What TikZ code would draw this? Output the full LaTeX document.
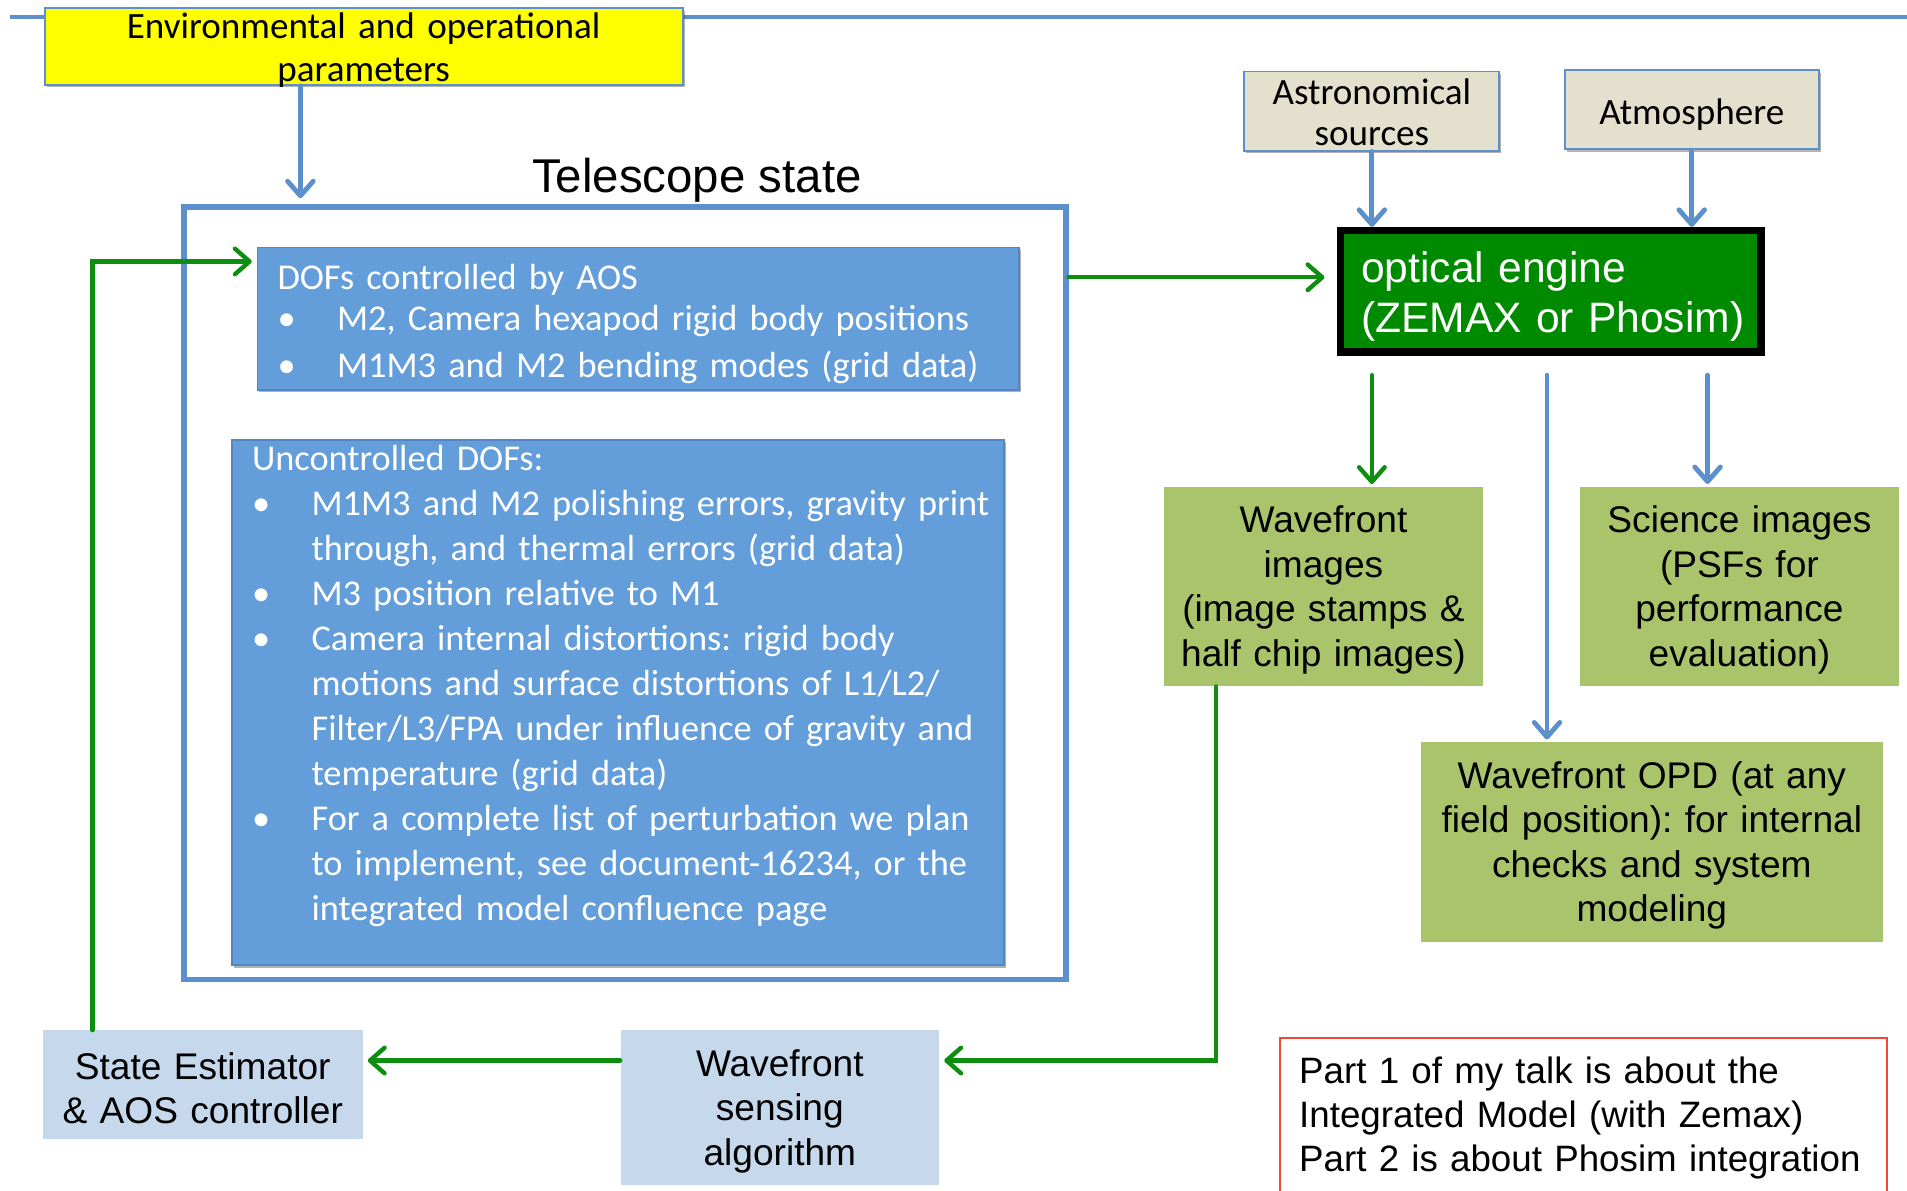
\documentclass[tikz,border=0pt]{standalone}
\usepackage{fontspec}
\setmainfont{Liberation Sans}
\newfontfamily\calfont{Carlito}
\usetikzlibrary{arrows.meta,shadows}
\frenchspacing
\definecolor{lineblue}{RGB}{92,144,204}
\definecolor{boxblue}{RGB}{99,158,218}
\definecolor{boxedge}{RGB}{84,134,194}
\definecolor{lightblue}{RGB}{198,216,236}
\definecolor{olivebox}{RGB}{169,196,107}
\definecolor{beige}{RGB}{227,224,205}
\definecolor{enggreen}{RGB}{0,138,0}
\definecolor{arrgreen}{RGB}{14,142,14}
\definecolor{redline}{RGB}{240,72,52}
\definecolor{yel}{RGB}{255,255,0}
\newcommand\ArTxt{\fontsize{30.5}{36.6}\selectfont}
\newcommand\CalTxt{\calfont\fontsize{29.9}{37}\selectfont}
\newcommand\mybul{\makebox[49pt][l]{\textbullet}}
\newcommand\myind{\hspace*{49pt}}
\begin{document}
\begin{tikzpicture}[x=1pt,y=-1pt,
  bx/.style={rectangle, inner sep=0pt, anchor=north west},
  shad/.style={drop shadow={shadow xshift=1.5pt, shadow yshift=-2pt, opacity=0.3, fill=black}},
  txt/.style={inner sep=0pt, anchor=base},
  artxt/.style={align=center, font=\ArTxt, text height=28pt},
  mytip/.style={-{Straight Barb[length=12pt,width=21pt,round]}},
  barrow/.style={draw=lineblue, line width=4pt, line cap=round, mytip},
  garrow/.style={draw=arrgreen, line width=3.6pt, line cap=round, mytip},
]
\fill[white] (0,0) rectangle (1568,979);
\useasboundingbox (0,0) rectangle (1568,979);

% top line
\coordinate (topL) at (8,14);
\coordinate (topR) at (1568,14);
\draw[lineblue, line width=3.6pt] (topL) -- (topR);

% environmental parameters
\node[bx, fill=yel, draw=lineblue, line width=1.6pt, shad, minimum width=525pt, minimum height=63pt] (env) at (36,6) {};
\node[txt, text width=600pt, align=center, font=\calfont\fontsize{30.5}{35}\selectfont] (envtxt) at (299,32) {Environmental and operational\\parameters};

% telescope state
\node[txt, font=\fontsize{39}{44}\selectfont] (tslabel) at (573,158) {Telescope state};
\node[bx, fill=white, draw=lineblue, line width=4.6pt, shad, minimum width=725pt, minimum height=635pt] (ts) at (149,168) {};

\node[bx, fill=boxblue, draw=boxedge, line width=1.3pt, shad, minimum width=626pt, minimum height=117pt] (dofs) at (211,203) {};
\node[txt, anchor=base west, text width=700pt, align=left, text=white, font=\calfont\fontsize{29.9}{38}\selectfont] (dofstxt) at (228,238) {DOFs controlled by AOS\\[-4pt]\mybul M2, Camera hexapod rigid body positions\\\mybul M1M3 and M2 bending modes (grid data)};

\node[bx, fill=boxblue, draw=boxedge, line width=1.3pt, shad, minimum width=635pt, minimum height=432pt] (unc) at (190,361) {};
\node[txt, anchor=base west, text width=700pt, align=left, text=white, font=\CalTxt] (unctxt) at (207,387) {Uncontrolled DOFs:\\
\mybul M1M3 and M2 polishing errors, gravity print\\
\myind through, and thermal errors (grid data)\\
\mybul M3 position relative to M1\\
\mybul Camera internal distortions: rigid body\\
\myind motions and surface distortions of L1/L2/\\
\myind Filter/L3/FPA under influence of gravity and\\
\myind temperature (grid data)\\
\mybul For a complete list of perturbation we plan\\
\myind to implement, see document-16234, or the\\
\myind integrated model confluence page};

% sources
\node[bx, fill=beige, draw=lineblue, line width=1.6pt, shad, minimum width=210pt, minimum height=65pt] (astro) at (1022,58) {};
\node[txt, text width=220pt, align=center, font=\calfont\fontsize{30.5}{33.5}\selectfont] (astrotxt) at (1128,86) {Astronomical\\sources};
\node[bx, fill=beige, draw=lineblue, line width=1.6pt, shad, minimum width=209pt, minimum height=65pt] (atmos) at (1286,57) {};
\node[txt, font=\calfont\fontsize{30.5}{37}\selectfont] (atmostxt) at (1391,102) {Atmosphere};

% optical engine
\node[bx, fill=enggreen, draw=black, line width=6pt, minimum width=346pt, minimum height=100pt] (eng) at (1099,186.5) {};
\node[txt, anchor=base west, text width=330pt, align=left, text=white, font=\fontsize{35}{41}\selectfont] (engtxt) at (1119,232) {optical engine\\(ZEMAX or Phosim)};

% outputs
\node[bx, fill=olivebox, minimum height=164pt, text width=262pt, artxt] (wfi) at (957,400) {Wavefront\\images\\(image stamps \&\\half chip images)};
\node[bx, fill=olivebox, minimum height=164pt, text width=262pt, artxt] (sci) at (1299,400) {Science images\\(PSFs for\\performance\\evaluation)};
\node[bx, fill=olivebox, minimum height=164pt, text width=380pt, artxt] (opd) at (1168,610) {Wavefront OPD (at any\\field position): for internal\\checks and system\\modeling};

% loop
\node[bx, fill=lightblue, minimum height=127pt, text width=262pt, artxt] (wfs) at (510,847) {Wavefront\\sensing\\algorithm};
\node[bx, fill=lightblue, minimum height=89pt, text width=263pt, artxt] (se) at (35,847) {State Estimator\\\& AOS controller};

% note
\node[bx, draw=redline, line width=1.3pt, minimum width=499pt, minimum height=140pt] (note) at (1052,853) {};
\node[txt, anchor=base west, text width=495pt, align=left, font=\fontsize{30.2}{36.3}\selectfont] (notetxt) at (1068,891) {Part 1 of my talk is about the\\Integrated Model (with Zemax)\\Part 2 is about Phosim integration};

% connectors
\coordinate (cEnv) at (247,0);
\coordinate (cAst) at (1128,0);
\coordinate (cAtm) at (1391,0);
\coordinate (cTS) at (0,228);
\coordinate (cSci) at (1404,0);
\coordinate (cOpd) at (1272,0);
\coordinate (kWF) at (1000,872);
\coordinate (kSE) at (76,215);

\draw[barrow, shorten >=5pt] (env.south -| cEnv) -- (ts.north -| cEnv);
\draw[barrow] (astro.south -| cAst) -- (eng.north -| cAst);
\draw[barrow] (atmos.south -| cAtm) -- (eng.north -| cAtm);
\draw[garrow, shorten >=10pt] (ts.east |- cTS) -- (eng.west |- cTS);
\draw[garrow, shorten <=16pt, shorten >=2pt] (eng.south -| cAst) -- (wfi.north -| cAst);
\draw[barrow, shorten <=16pt, shorten >=2pt] (eng.south -| cOpd) -- (opd.north -| cOpd);
\draw[barrow, shorten <=16pt, shorten >=2pt] (eng.south -| cSci) -- (sci.north -| cSci);
\draw[garrow, shorten >=4pt] (wfi.south -| kWF) -- (kWF) -- (wfs.east |- kWF);
\draw[garrow, shorten >=4pt] (wfs.west |- kWF) -- (se.east |- kWF);
\draw[garrow, shorten >=4pt] (se.north -| kSE) -- (kSE) -- (dofs.west |- kSE);
\end{tikzpicture}
\end{document}
